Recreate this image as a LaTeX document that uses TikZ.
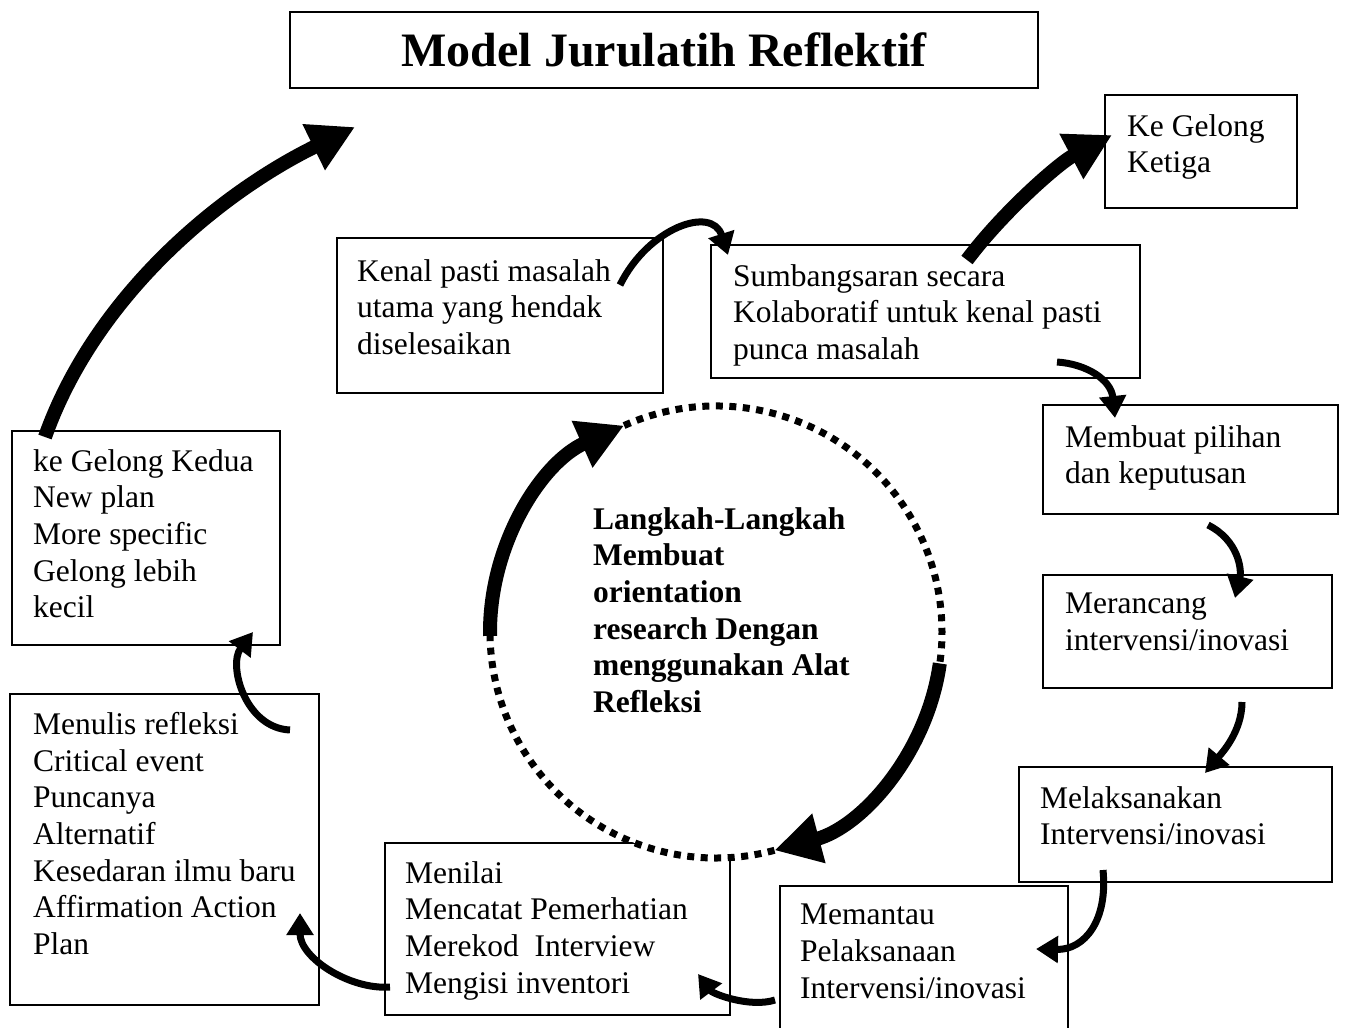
\documentclass[tikz,border=0pt]{standalone}
\usepackage{fontspec}
\setmainfont{Liberation Serif}
\usetikzlibrary{arrows.meta}

\begin{document}
\begin{tikzpicture}[x=1pt, y=-1pt,
  box/.style={draw, line width=1.6pt, inner sep=0pt, outer sep=0pt, anchor=north west},
  txt/.style={anchor=north west, align=left, inner sep=0pt, font=\fontsize{31.5}{36.7}\selectfont},
  dots/.style={line width=7pt, dash pattern=on 7pt off 6.5pt},
  bigarrow/.style={line width=14pt, -{Triangle[length=46pt,width=48pt]}},
  smallarrow/.style={line width=7pt, -{Triangle[length=22pt,width=26pt]}}]
\clip (0,0) rectangle (1358,1028);

% title
\node[box, minimum width=748pt, minimum height=76pt, font=\fontsize{48}{56}\selectfont\bfseries] (title) at (290,12) {Model Jurulatih Reflektif};

% boxes
\node[box, minimum width=192pt, minimum height=113pt] (ketiga) at (1105,95) {};
\node[box, minimum width=326pt, minimum height=155pt] (kenal) at (337,238) {};
\node[box, minimum width=429pt, minimum height=133pt] (sumbang) at (711,245) {};
\node[box, minimum width=295pt, minimum height=109pt] (membuat) at (1043,405) {};
\node[box, minimum width=289pt, minimum height=113pt] (merancang) at (1043,575) {};
\node[box, minimum width=313pt, minimum height=115pt] (melaksana) at (1019,767) {};
\node[box, minimum width=288pt, minimum height=160pt] (memantau) at (780,886) {};
\node[box, minimum width=345pt, minimum height=172pt] (menilai) at (385,843) {};
\node[box, minimum width=309pt, minimum height=311pt] (menulis) at (10,694) {};
\node[box, minimum width=268pt, minimum height=214pt] (kedua) at (12,431) {};

% texts
\node[txt] (ketiga-t) at (1127,114) {Ke Gelong\\Ketiga};
\node[txt] (kenal-t) at (357,259) {Kenal pasti masalah\\utama yang hendak\\diselesaikan};
\node[txt] (sumbang-t) at (733,264) {Sumbangsaran secara\\Kolaboratif untuk kenal pasti\\punca masalah};
\node[txt] (membuat-t) at (1065,425) {Membuat pilihan\\dan keputusan};
\node[txt] (merancang-t) at (1065,593) {Merancang\\intervensi/inovasi};
\node[txt] (melaksana-t) at (1040,786) {Melaksanakan\\Intervensi/inovasi};
\node[txt] (memantau-t) at (800,904) {Memantau\\Pelaksanaan\\Intervensi/inovasi};
\node[txt] (menilai-t) at (405,861) {Menilai\\Mencatat Pemerhatian\\Merekod\ \ Interview\\Mengisi inventori};
\node[txt] (menulis-t) at (33,712) {Menulis refleksi\\Critical event\\Puncanya\\Alternatif\\Kesedaran ilmu baru\\Affirmation Action\\Plan};
\node[txt] (kedua-t) at (33,449) {ke Gelong Kedua\\New plan\\More specific\\Gelong lebih\\kecil};

% dotted cycle in the middle
\node[circle, fill=white, minimum size=452pt, inner sep=0pt] (circ) at (716,632) {};
\draw[dots] ([shift={(114:226pt)}]circ.center) arc[start angle=114, end angle=-8, radius=226pt];
\draw[dots] ([shift={(-75:226pt)}]circ.center) arc[start angle=-75, end angle=-179, radius=226pt];
\node[txt, font=\fontsize{31.5}{36.7}\selectfont\bfseries] (langkah) at (593,507) {Langkah-Langkah\\Membuat\\orientation\\research Dengan\\menggunakan Alat\\Refleksi};
\draw[bigarrow] ([shift={(181:226pt)}]circ.center) arc[start angle=181, end angle=114, radius=226pt];
\draw[bigarrow] ([shift={(-8:226pt)}]circ.center) arc[start angle=-8, end angle=-75, radius=226pt];

% big arrows out of the loop
\draw[bigarrow] ([shift={(33,6)}]kedua.north west) .. controls +(50,-141) and +(-135,66) .. ([shift={(65,39)}]title.south west);
\draw[bigarrow] ([shift={(256,15)}]sumbang.north west) .. controls +(36,-48) and +(-53,28) .. ([shift={(7,40)}]ketiga.north west);

% small arrows between steps
\draw[smallarrow] ([shift={(283,47)}]kenal.north west) .. controls +(28,-57) and +(-16,-50) .. ([shift={(17,10)}]sumbang.north west);
\draw[smallarrow] ([shift={(346,117)}]sumbang.north west) .. controls +(30,2) and +(-4,-38) .. ([shift={(72,13)}]membuat.north west);
\draw[smallarrow] ([shift={(165,120)}]membuat.north west) .. controls +(30,15) and +(7,-29) .. ([shift={(192,23)}]merancang.north west);
\draw[smallarrow] ([shift={(199,127)}]merancang.north west) .. controls +(0,30) and +(16,-19) .. ([shift={(186,6)}]melaksana.north west);
\draw[smallarrow] ([shift={(84,103)}]melaksana.north west) .. controls +(5,50) and +(49,1) .. ([shift={(256,63)}]memantau.north west);
\draw[smallarrow] ([shift={(-5,114)}]memantau.north west) .. controls +(-25,8) and +(15,20) .. ([shift={(313,131)}]menilai.north west);
\draw[smallarrow] ([shift={(5,144)}]menilai.north west) .. controls +(-40,3) and +(0,45) .. ([shift={(290,219)}]menulis.north west);
\draw[smallarrow] ([shift={(280,36)}]menulis.north west) .. controls +(-45,-2) and +(-25,33) .. ([shift={(241,201)}]kedua.north west);

\end{tikzpicture}
\end{document}
